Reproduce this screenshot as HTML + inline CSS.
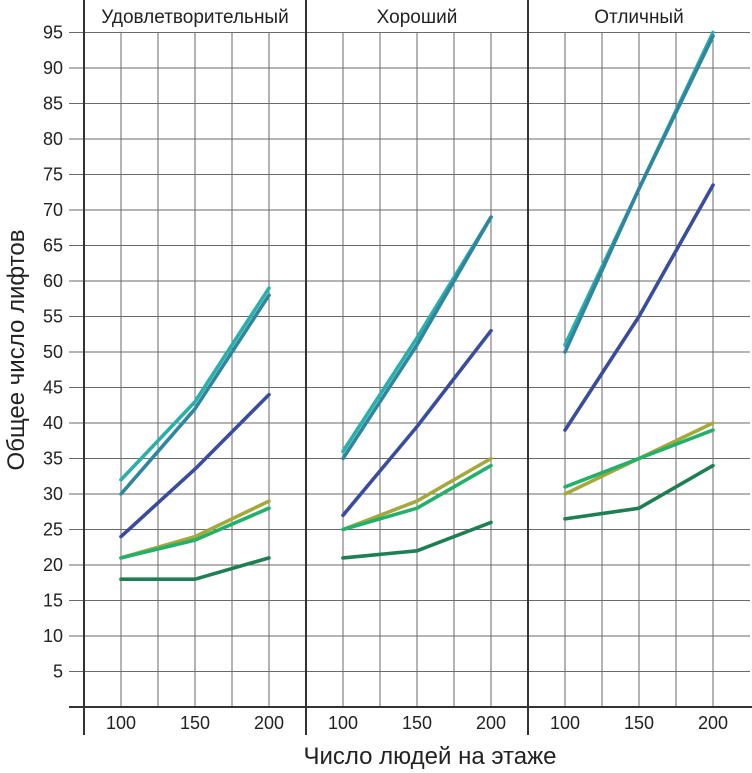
<!DOCTYPE html>
<html><head><meta charset="utf-8"><style>
body{margin:0;background:#fff;}
svg{display:block;font-family:"Liberation Sans",sans-serif;}
</style></head><body>
<svg id="c" width="752" height="773" viewBox="0 0 752 773"></svg>
<script>
const panels=["Удовлетворительный","Хороший","Отличный"];
const xCats=[100,150,200];
const yTicks=[5,10,15,20,25,30,35,40,45,50,55,60,65,70,75,80,85,90,95];
const seriesNames=["teal","steel","navy","olive","green","dark-green"];
const seriesColors=["#2ab0a8","#2f86a0","#3a4d9c","#a5a83a","#22b06a","#1e7f52"];
const teal=[[32,43,59],[36,52,69],[51,73,95]];
const steel=[[30,42,58],[35,51,69],[50,73,94.5]];
const navy=[[24,33.5,44],[27,39.5,53],[39,55,73.5]];
const olive=[[21,24,29],[25,29,35],[30,35,40]];
const green=[[21,23.5,28],[25,28,34],[31,35,39]];
const darkGreen=[[18,18,21],[21,22,26],[26.5,28,34]];
const allSeries=[teal,steel,navy,olive,green,darkGreen];

const NS="http://www.w3.org/2000/svg";
const svg=document.getElementById('c');
const X0=84,PW=222;
const y=v=>707-v*7.1;
const x=(p,v)=>X0+p*PW+(v-75)/150*PW;
function el(t,a,txt){const e=document.createElementNS(NS,t);for(const k in a)e.setAttribute(k,a[k]);if(txt!=null)e.textContent=txt;svg.appendChild(e);return e;}

yTicks.forEach(v=>{
  const l=el('line',{x1:69,x2:750,y1:y(v),y2:y(v),stroke:'#6a6a6a','stroke-width':1});
  
  
  const t=el('text',{x:63,y:y(v)+6,'text-anchor':'end','font-size':18,fill:'#222'},v);
  
  
});
for(let p=0;p<3;p++){
  for(let k=1;k<6;k++){
    const gx=X0+p*PW+k*37;
    const l=el('line',{x1:gx,x2:gx,y1:y(95),y2:707,stroke:'#6a6a6a','stroke-width':1});
    
    
  }
  const t=el('text',{x:X0+p*PW+PW/2,y:23,'text-anchor':'middle','font-size':19,fill:'#222'},panels[p]);
  
  
  xCats.forEach(c=>{
    const tl=el('text',{x:x(p,c),y:729,'text-anchor':'middle','font-size':18,fill:'#222'},c);
    
    
  });
}
for(let p=0;p<3;p++){
  const dx=X0+p*PW;
  const l=el('line',{x1:dx,x2:dx,y1:0,y2:735,stroke:'#333','stroke-width':2});
  
  
}
const ax=el('line',{x1:69,x2:752,y1:707,y2:707,stroke:'#333','stroke-width':2});


allSeries.forEach((s,i)=>{
  for(let p=0;p<3;p++){
    const pts=s[p].map((v,j)=>x(p,xCats[j]).toFixed(1)+','+y(v).toFixed(1)).join(' ');
    const pl=el('polyline',{points:pts,fill:'none',stroke:seriesColors[i],'stroke-width':3.6,'stroke-linejoin':'round','stroke-linecap':'round'});
    
    
  }
});
const yt=el('text',{transform:'translate(24,350) rotate(-90)','text-anchor':'middle','font-size':24,fill:'#222'},'Общее число лифтов');


const xt=el('text',{x:430,y:764,'text-anchor':'middle','font-size':24,fill:'#222'},'Число людей на этаже');


</script>
</body></html>
